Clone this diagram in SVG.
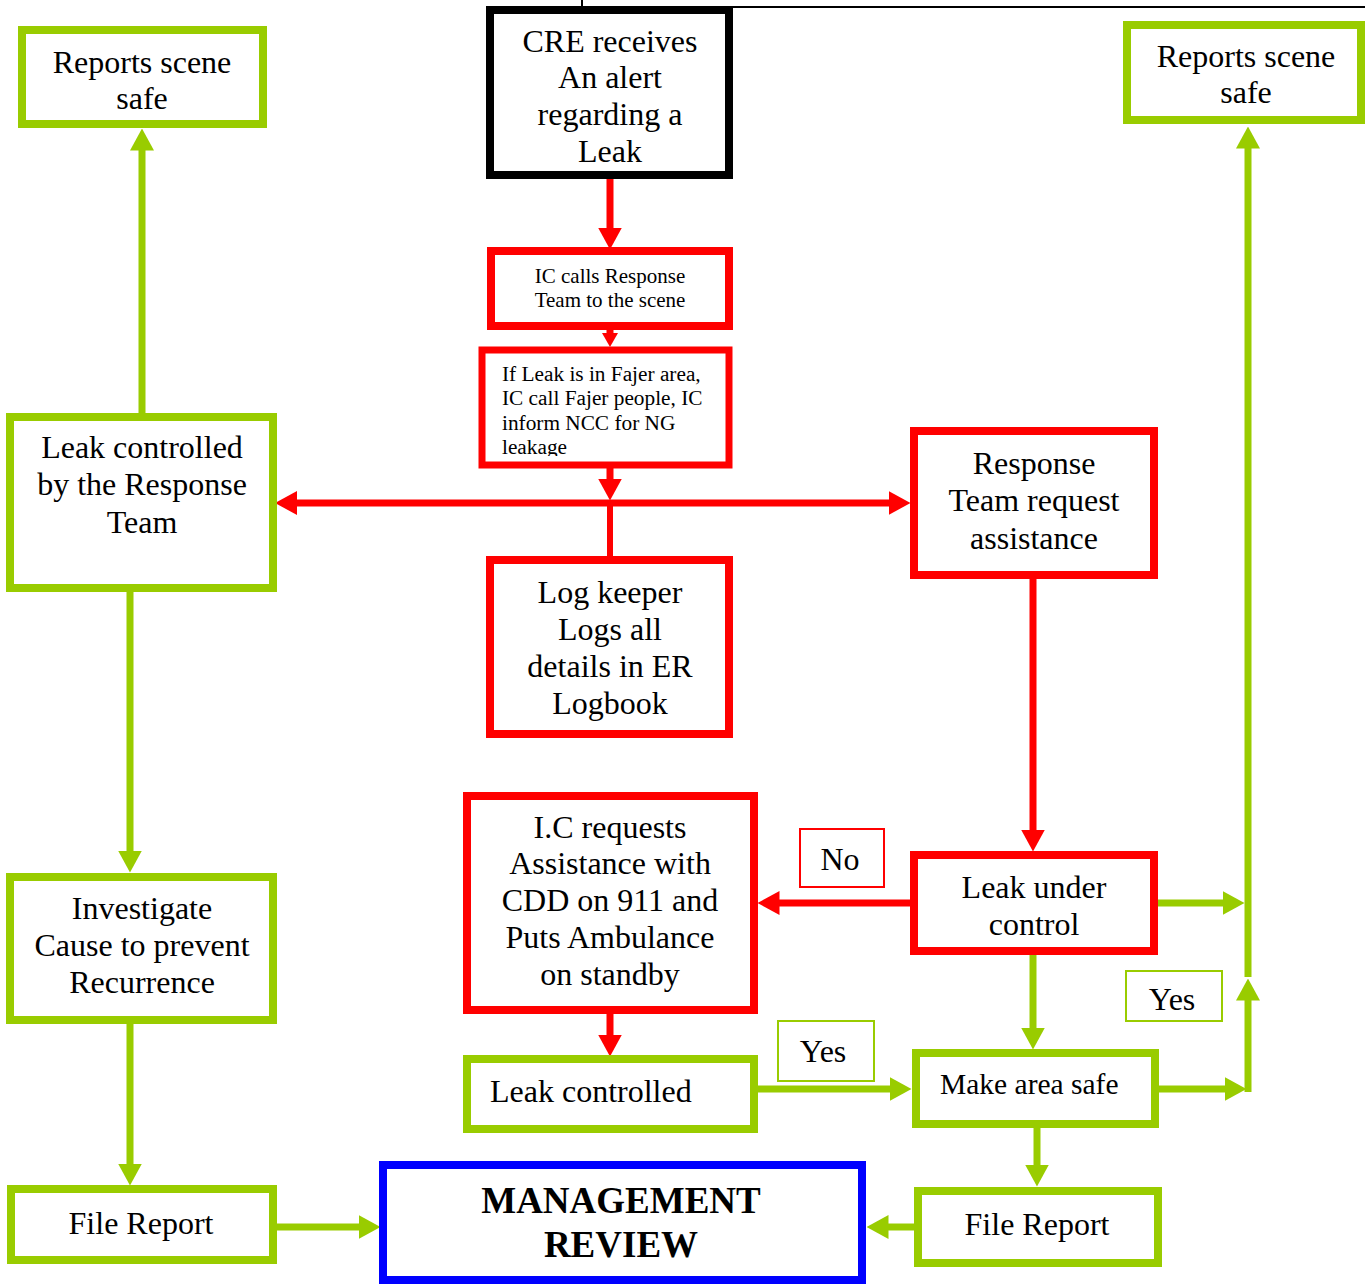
<svg xmlns="http://www.w3.org/2000/svg" width="1365" height="1285" viewBox="0 0 1365 1285">
<style>
.bg{fill:#fff}
.g{fill:#fff;stroke:#99CC00;stroke-width:8}
.r{fill:#fff;stroke:#FF0000;stroke-width:8}
.k{fill:#fff;stroke:#000;stroke-width:8}
.b{fill:#fff;stroke:#0000FF;stroke-width:8}
.gl{fill:#fff;stroke:#99CC00;stroke-width:2}
.rl{fill:#fff;stroke:#FF0000;stroke-width:2}
.t{font-family:"Liberation Serif","Times New Roman",serif;font-size:32px;fill:#000;text-anchor:middle}
.tl{text-anchor:start}
.s{font-size:21px}
.f{font-size:21.3px}
.mb{font-weight:bold;font-size:37px}
.cg{stroke:#99CC00;stroke-width:7;fill:none}
.cr{stroke:#FF0000;stroke-width:7;fill:none}
</style>
<defs>
<marker id="ag" viewBox="0 0 22 24" markerWidth="22" markerHeight="24" refX="0.5" refY="12" orient="auto" markerUnits="userSpaceOnUse"><path d="M0,0 L22,12 L0,24 z" fill="#99CC00"/></marker>
<marker id="ar" viewBox="0 0 22 24" markerWidth="22" markerHeight="24" refX="0.5" refY="12" orient="auto" markerUnits="userSpaceOnUse"><path d="M0,0 L22,12 L0,24 z" fill="#FF0000"/></marker>
<clipPath id="ifclip"><rect x="486" y="354" width="239" height="102"/></clipPath>
</defs>
<rect class="bg" x="0" y="0" width="1365" height="1285"/>

<g id="connectors">
<path d="M582,0 V7 H1365" stroke="#000" stroke-width="2" fill="none"/>
<line class="cr" x1="610" y1="178" x2="610" y2="228" marker-end="url(#ar)"/>
<line class="cr" x1="610" y1="328" x2="610" y2="334"/>
<polygon points="602,333 618,333 610,347" fill="#FF0000"/>
<line class="cr" x1="610" y1="468" x2="610" y2="479" marker-end="url(#ar)"/>
<line class="cr" x1="297" y1="503" x2="889" y2="503" marker-end="url(#ar)"/>
<polygon points="275,503 297,491 297,515" fill="#FF0000"/>
<line class="cr" x1="610" y1="503" x2="610" y2="558" style="stroke-width:6"/>
<line class="cr" x1="1033" y1="578" x2="1033" y2="830" marker-end="url(#ar)"/>
<line class="cr" x1="911" y1="903" x2="779" y2="903" marker-end="url(#ar)"/>
<line class="cr" x1="610" y1="1012" x2="610" y2="1035" marker-end="url(#ar)"/>
<line class="cg" x1="757" y1="1089" x2="890" y2="1089" marker-end="url(#ag)"/>
<line class="cg" x1="1033" y1="954" x2="1033" y2="1028" marker-end="url(#ag)"/>
<line class="cg" x1="1156" y1="903" x2="1223" y2="903" marker-end="url(#ag)"/>
<line class="cg" x1="1158" y1="1089" x2="1225" y2="1089" marker-end="url(#ag)"/>
<line class="cg" x1="1248" y1="1092" x2="1248" y2="1000" marker-end="url(#ag)"/>
<line class="cg" x1="1248" y1="977" x2="1248" y2="148" marker-end="url(#ag)"/>
<line class="cg" x1="1037" y1="1127" x2="1037" y2="1165" marker-end="url(#ag)"/>
<line class="cg" x1="915" y1="1227" x2="888" y2="1227" marker-end="url(#ag)"/>
<line class="cg" x1="276" y1="1227" x2="359" y2="1227" marker-end="url(#ag)"/>
<line class="cg" x1="142" y1="414" x2="142" y2="150" marker-end="url(#ag)"/>
<line class="cg" x1="130" y1="591" x2="130" y2="851" marker-end="url(#ag)"/>
<line class="cg" x1="130" y1="1023" x2="130" y2="1164" marker-end="url(#ag)"/>
</g>

<g id="n-cre">
<rect class="k" x="490" y="10" width="239" height="165"/>
<text class="t" x="610" y="52">CRE receives</text>
<text class="t" x="610" y="88">An alert</text>
<text class="t" x="610" y="125">regarding a</text>
<text class="t" x="610" y="162">Leak</text>
</g>
<g id="n-ic-calls">
<rect class="r" x="491" y="251" width="238" height="75"/>
<text class="t s" x="610" y="283">IC calls Response</text>
<text class="t s" x="610" y="307">Team to the  scene</text>
</g>
<g id="n-fajer">
<rect class="r" x="482" y="350" width="247" height="115" style="stroke-width:7"/>
<g clip-path="url(#ifclip)">
<text class="t tl f" x="502" y="381">If Leak is in Fajer area,</text>
<text class="t tl f" x="502" y="405">IC call Fajer people, IC</text>
<text class="t tl f" x="502" y="430">inform NCC for NG</text>
<text class="t tl f" x="502" y="454">leakage</text>
</g>
</g>
<g id="n-logkeeper">
<rect class="r" x="490" y="560" width="239" height="174"/>
<text class="t" x="610" y="603">Log keeper</text>
<text class="t" x="610" y="640">Logs all</text>
<text class="t" x="610" y="677">details in ER</text>
<text class="t" x="610" y="714">Logbook</text>
</g>
<g id="n-leak-controlled-rt">
<rect class="g" x="10" y="417" width="263" height="171"/>
<text class="t" x="142" y="458">Leak controlled</text>
<text class="t" x="142" y="495">by the Response</text>
<text class="t" x="142" y="533">Team</text>
</g>
<g id="n-reports-left">
<rect class="g" x="22" y="30" width="241" height="94"/>
<text class="t" x="142" y="73">Reports scene</text>
<text class="t" x="142" y="109">safe</text>
</g>
<g id="n-reports-right">
<rect class="g" x="1127" y="25" width="234" height="95"/>
<text class="t" x="1246" y="67">Reports scene</text>
<text class="t" x="1246" y="103">safe</text>
</g>
<g id="n-response">
<rect class="r" x="914" y="431" width="240" height="144"/>
<text class="t" x="1034" y="474">Response</text>
<text class="t" x="1034" y="511">Team request</text>
<text class="t" x="1034" y="549">assistance</text>
</g>
<g id="n-investigate">
<rect class="g" x="10" y="877" width="263" height="143"/>
<text class="t" x="142" y="919">Investigate</text>
<text class="t" x="142" y="956">Cause to prevent</text>
<text class="t" x="142" y="993">Recurrence</text>
</g>
<g id="n-ic-requests">
<rect class="r" x="467" y="796" width="287" height="214"/>
<text class="t" x="610" y="838">I.C requests</text>
<text class="t" x="610" y="874">Assistance with</text>
<text class="t" x="610" y="911">CDD on 911 and</text>
<text class="t" x="610" y="948">Puts Ambulance</text>
<text class="t" x="610" y="985">on standby</text>
</g>
<g id="n-leak-under">
<rect class="r" x="914" y="855" width="240" height="96"/>
<text class="t" x="1034" y="898">Leak under</text>
<text class="t" x="1034" y="935">control</text>
</g>
<g id="l-no">
<rect class="rl" x="800" y="829" width="84" height="58"/>
<text class="t" x="840" y="870">No</text>
</g>
<g id="n-leak-controlled">
<rect class="g" x="467" y="1059" width="287" height="70"/>
<text class="t tl" x="490" y="1102">Leak controlled</text>
</g>
<g id="l-yes-left">
<rect class="gl" x="778" y="1021" width="96" height="60"/>
<text class="t" x="823" y="1062">Yes</text>
</g>
<g id="n-make-safe">
<rect class="g" x="916" y="1053" width="239" height="71"/>
<text class="t tl" x="940" y="1094" style="font-size:29.5px">Make area safe</text>
</g>
<g id="l-yes-right">
<rect class="gl" x="1126" y="971" width="96" height="50"/>
<text class="t" x="1172" y="1010">Yes</text>
</g>
<g id="n-file-left">
<rect class="g" x="11" y="1189" width="262" height="71"/>
<text class="t" x="141" y="1234">File Report</text>
</g>
<g id="n-management">
<rect class="b" x="383" y="1165" width="479" height="115"/>
<text class="t mb" x="621" y="1213">MANAGEMENT</text>
<text class="t mb" x="621" y="1257">REVIEW</text>
</g>
<g id="n-file-right">
<rect class="g" x="918" y="1191" width="240" height="72"/>
<text class="t" x="1037" y="1235">File Report</text>
</g>
</svg>
